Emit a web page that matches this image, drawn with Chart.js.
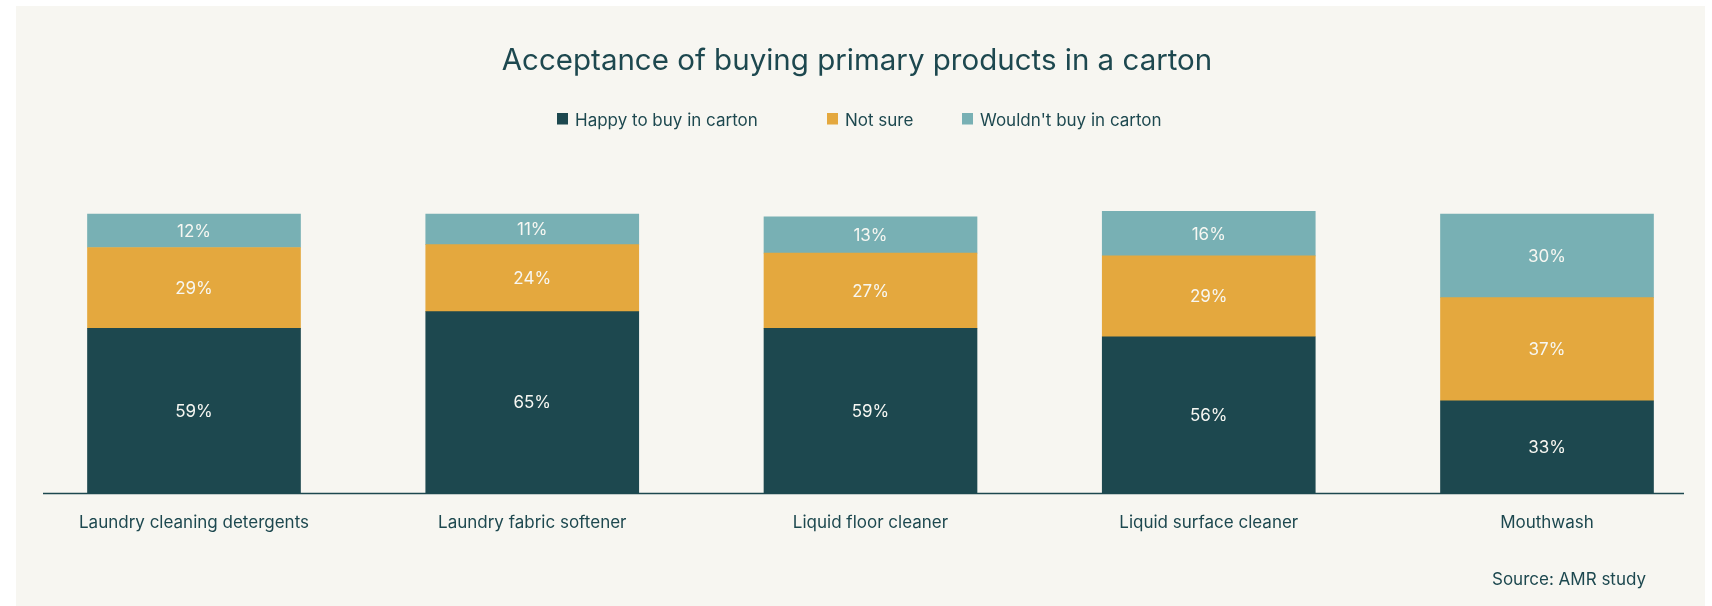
<!DOCTYPE html>
<html>
<head>
<meta charset="utf-8">
<title>Acceptance of buying primary products in a carton</title>
<script src="https://cdn.jsdelivr.net/npm/chart.js"></script>
<style>
    body { margin: 0; background: #ffffff; }
    canvas { display: block; }
</style>
</head>
<body>
<canvas id="bar_chart" width="1712" height="606"></canvas>
<script>
var chartTitle = "Acceptance of buying primary products in a carton";
var sourceNote = "Source: AMR study";
var categories = [
    "Laundry cleaning detergents",
    "Laundry fabric softener",
    "Liquid floor cleaner",
    "Liquid surface cleaner",
    "Mouthwash"
];
var seriesNames = ["Happy to buy in carton", "Not sure", "Wouldn't buy in carton"];
var happyValues = [59, 65, 59, 56, 33];
var notSureValues = [29, 24, 27, 29, 37];
var wouldntValues = [12, 11, 13, 16, 30];
var seriesColors = ["#1d484f", "#e4a83e", "#78b0b4"];

var textColor = "#1d484f";
var fontName = "Inter";

// beige card behind everything
var cardPlugin = {
    id: 'card',
    beforeDraw: function (chart) {
        var ctx = chart.ctx;
        ctx.save();
        ctx.fillStyle = "#f7f6f1";
        ctx.fillRect(16, 6, 1689, 600);
        ctx.restore();
    }
};

// title, legend row, baseline, source and the % labels inside the bars
var decorPlugin = {
    id: 'decor',
    afterDatasetsDraw: function (chart) {
        var ctx = chart.ctx;
        var area = chart.chartArea;
        ctx.save();

        ctx.fillStyle = textColor;
        ctx.textAlign = "center";
        ctx.textBaseline = "alphabetic";
        ctx.font = "29.5px " + fontName;
        ctx.fillText(chartTitle, 857, 69.5);

        var legendX = [557, 827, 962];
        ctx.font = "17px " + fontName;
        ctx.textAlign = "left";
        chart.data.datasets.forEach(function (ds, i) {
            ctx.fillStyle = ds.backgroundColor;
            ctx.fillRect(legendX[i], 113, 11, 11.5);
            ctx.fillStyle = textColor;
            ctx.fillText(ds.label, legendX[i] + 18, 126);
        });

        ctx.strokeStyle = textColor;
        ctx.lineWidth = 1.5;
        ctx.beginPath();
        ctx.moveTo(43, area.bottom + 0.5);
        ctx.lineTo(1684, area.bottom + 0.5);
        ctx.stroke();

        ctx.fillStyle = textColor;
        ctx.fillText(sourceNote, 1492, 585);

        ctx.fillStyle = "#f7f7f2";
        ctx.textAlign = "center";
        ctx.textBaseline = "middle";
        chart.data.datasets.forEach(function (ds, i) {
            chart.getDatasetMeta(i).data.forEach(function (bar, j) {
                var mid = (bar.y + bar.base) / 2;
                ctx.fillText(ds.data[j] + "%", bar.x, mid + 1);
            });
        });
        ctx.restore();
    }
};

function getChartJs() {
    var values = [happyValues, notSureValues, wouldntValues];
    var datasets = seriesNames.map(function (name, i) {
        return {
            label: name,
            data: values[i],
            backgroundColor: seriesColors[i],
            barThickness: 213,
            clip: false
        };
    });
    return {
        type: 'bar',
        data: {
            labels: categories,
            datasets: datasets
        },
        options: {
            responsive: false,
            animation: false,
            layout: {
                padding: { left: 194, right: 165, top: 214, bottom: 0 }
            },
            plugins: {
                legend: { display: false },
                title: { display: false },
                tooltip: { enabled: false }
            },
            scales: {
                x: {
                    stacked: true,
                    offset: false,
                    grid: { display: false, drawTicks: false },
                    border: { display: false },
                    ticks: {
                        color: textColor,
                        font: { family: fontName, size: 17 },
                        padding: 20,
                        maxRotation: 0,
                        autoSkip: false
                    },
                    afterFit: function (scale) {
                        scale.height = 113;
                    }
                },
                y: {
                    stacked: true,
                    display: false,
                    min: 0,
                    max: 100
                }
            }
        },
        plugins: [cardPlugin, decorPlugin]
    };
}

new Chart(document.getElementById("bar_chart").getContext("2d"), getChartJs());
</script>
</body>
</html>
